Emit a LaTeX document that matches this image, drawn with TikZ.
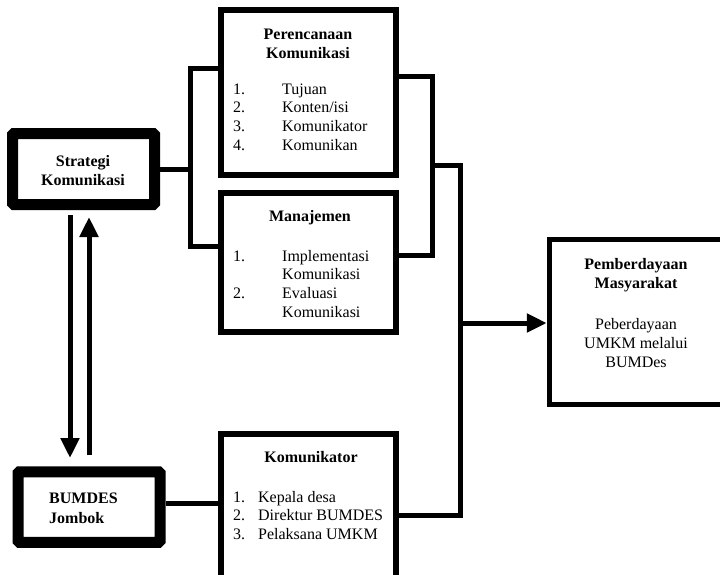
\documentclass[tikz,border=0pt]{standalone}
\usepackage{fontspec}
\setmainfont{Liberation Serif}
\usetikzlibrary{arrows.meta}
\begin{document}
\begin{tikzpicture}[x=1pt,y=-1pt,
  thickbox/.style={draw, line width=11pt, rounded corners=1.5pt, inner sep=0pt},
  plainbox/.style={draw, line width=5.5pt, inner sep=0pt},
  conn/.style={line width=5pt},
  arr/.style={conn, -{Triangle[length=20pt,width=18pt]}},
  txt/.style={inner sep=0pt, font=\fontsize{16}{18.7}\selectfont},
  ttl/.style={txt, font=\fontsize{16}{19}\selectfont\bfseries, align=center, anchor=base}]
\useasboundingbox (0,0) rectangle (720,574);
\clip (0,0) rectangle (720,574);
% boxes
\node[thickbox, minimum width=142pt, minimum height=71pt] (strat) at (83.5,169) {};
\node[thickbox, minimum width=142pt, minimum height=70.5pt] (bum) at (89,507) {};
\node[plainbox, minimum width=175pt, minimum height=165pt] (per) at (308.5,92.5) {};
\node[plainbox, minimum width=175pt, minimum height=139pt] (man) at (308.5,262.5) {};
\node[plainbox, minimum width=175pt, minimum height=200pt] (kom) at (308.5,534) {};
\node[plainbox, minimum width=200pt, minimum height=165pt] (pem) at (649.5,322) {};
% texts (base anchor of a multi-line node = last line's baseline)
\node[ttl] (tstrat) at (83,185) {Strategi\\Komunikasi};
\node[txt, font=\fontsize{16}{19.5}\selectfont\bfseries, align=left, anchor=base west] (tbum) at (49,523) {BUMDES\\Jombok};
\node[ttl] (tper) at (308,58) {Perencanaan\\Komunikasi};
\node[txt, anchor=base west] (lper) at (233,94) {\begin{tabular}[t]{@{}p{49pt}@{}l@{}}1.&Tujuan\\2.&Konten/isi\\3.&Komunikator\\4.&Komunikan\end{tabular}};
\node[ttl] (tman) at (310,221) {Manajemen};
\node[txt, anchor=base west] (lman) at (233,261) {\begin{tabular}[t]{@{}p{49pt}@{}l@{}}1.&Implementasi\\&Komunikasi\\2.&Evaluasi\\&Komunikasi\end{tabular}};
\node[ttl] (tkom) at (311,462) {Komunikator};
\node[txt, anchor=base west] (lkom) at (233,502) {\begin{tabular}[t]{@{}p{25pt}@{}l@{}}1.&Kepala desa\\2.&Direktur BUMDES\\3.&Pelaksana UMKM\end{tabular}};
\node[ttl] (tpem) at (636,288) {Pemberdayaan\\Masyarakat};
\node[txt, align=center, anchor=base] (lpem) at (636,367) {Peberdayaan\\UMKM melalui\\BUMDes};
% connector points
\coordinate (lt) at (190,68);
\coordinate (lm) at (190,169);
\coordinate (lb) at (190,246);
\coordinate (rt) at (432,76);
\coordinate (rm) at (432,165);
\coordinate (rb) at (432,255);
\coordinate (jt) at (460,165);
\coordinate (ja) at (460,323);
\coordinate (jb) at (460,515);
\coordinate (bl) at (190,503);
\coordinate (d1) at (70,215);
\coordinate (d2) at (70,458);
\coordinate (u1) at (89,455);
\coordinate (u2) at (89,217);
% connectors
\draw[conn] (strat.east) -- (lm);
\draw[conn] (per.west |- lt) -- (lt) -- (lb) -- (man.west |- lb);
\draw[conn] (per.east |- rt) -- (rt) -- (rb) -- (man.east |- rb);
\draw[conn] (rm) -- (jt) -- (jb) -- (kom.east |- jb);
\draw[arr] (ja) -- (pem.west |- ja);
\draw[conn] (bum.east |- bl) -- (kom.west |- bl);
\draw[arr] (d1) -- (d2);
\draw[arr] (u1) -- (u2);
\end{tikzpicture}
\end{document}
